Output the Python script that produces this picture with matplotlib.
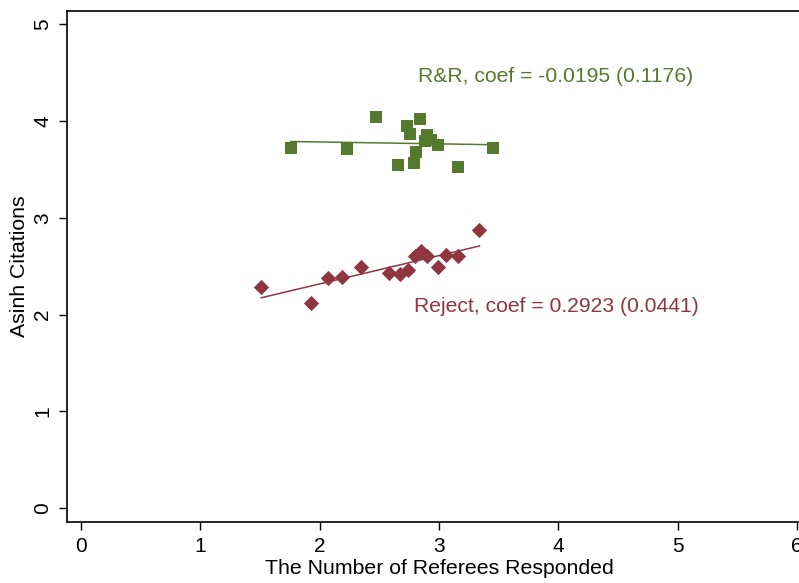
import numpy as np
from matplotlib import pyplot as plt

# binned means, R&R decisions
rr_x = [1.76, 2.23, 2.47, 2.66, 2.73, 2.76, 2.79, 2.81, 2.84, 2.88, 2.90, 2.93, 2.99, 3.16, 3.45]
rr_y = [3.72, 3.71, 4.04, 3.54, 3.95, 3.86, 3.56, 3.68, 4.02, 3.79, 3.85, 3.80, 3.75, 3.52, 3.72]

# binned means, rejections
rej_x = [1.51, 1.93, 2.07, 2.19, 2.35, 2.58, 2.67, 2.74, 2.80, 2.85, 2.90, 2.99, 3.06, 3.16, 3.34]
rej_y = [2.28, 2.12, 2.38, 2.39, 2.49, 2.43, 2.42, 2.46, 2.60, 2.66, 2.60, 2.49, 2.61, 2.60, 2.87]

# fitted lines: (intercept, slope)
rr_fit = (3.821, -0.0195)
rej_fit = (1.732, 0.2923)

rr_label = "R&R, coef = -0.0195 (0.1176)"
rej_label = "Reject, coef = 0.2923 (0.0441)"

green = "#557a2e"
red = "#8f3641"

plt.rcParams["font.family"] = ["Liberation Sans", "DejaVu Sans"]

fig = plt.figure(figsize=(7.99, 5.83), dpi=100)
ax = fig.add_axes([67.3 / 799, 1 - 521.7 / 583, (812 - 67.3) / 799, (521.7 - 10.7) / 583])

for xs, ys, fit, col, mk, ms in [
    (rr_x, rr_y, rr_fit, green, "s", 9.0),
    (rej_x, rej_y, rej_fit, red, "D", 7.8),
]:
    ax.scatter(xs, ys, marker=mk, s=ms ** 2, color=col, linewidths=0, zorder=3)
    lx = np.array([min(xs), max(xs)])
    ax.plot(lx, fit[0] + fit[1] * lx, color=col, lw=1.1, zorder=2)

ax.text(2.825, 4.46, rr_label, color=green, fontsize=15.2, ha="left", va="center")
ax.text(2.79, 2.08, rej_label, color=red, fontsize=15.2, ha="left", va="center")

ax.set_xlim(-0.115, (812 - 81) / 119.3)
ax.set_ylim(-0.138, 5.137)
ax.set_xticks(range(0, 7))
ax.set_yticks(range(0, 6))
ax.tick_params(direction="out", length=6, width=1, labelsize=15, pad=5)
for lab in ax.get_yticklabels():
    lab.set_rotation(90)
    lab.set_va("center")
ax.spines["right"].set_visible(False)
for s in ["left", "top", "bottom"]:
    ax.spines[s].set_linewidth(1.2)

ax.set_xlabel("The Number of Referees Responded", fontsize=15.3, labelpad=2)
ax.set_ylabel("Asinh Citations", fontsize=15.3, labelpad=3)

fig.savefig("out.png", dpi=100)
